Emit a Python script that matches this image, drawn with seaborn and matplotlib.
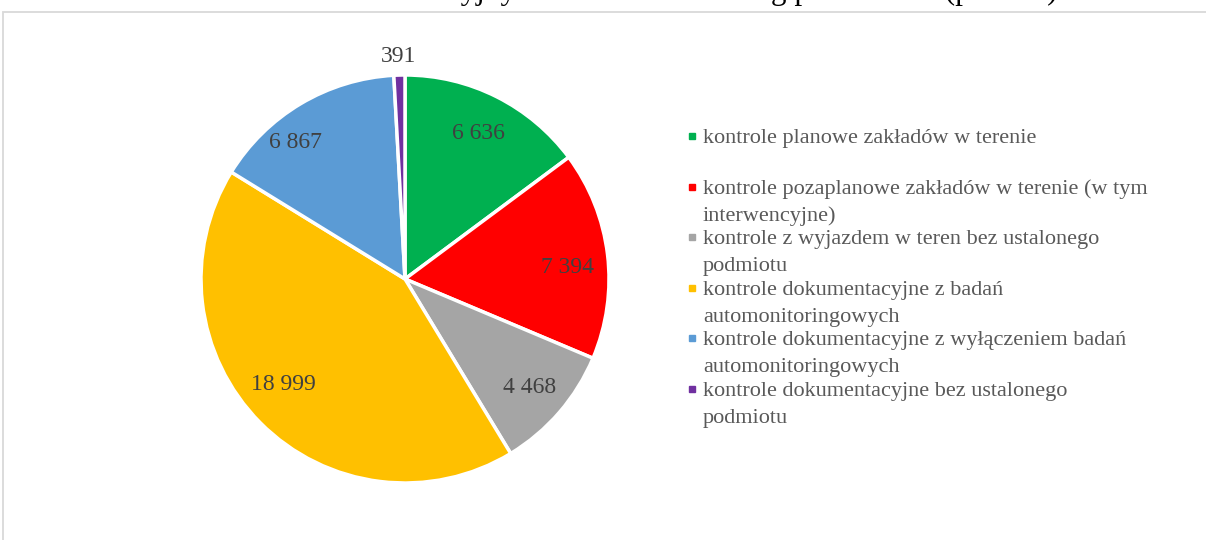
import numpy as np
import pandas as pd
import matplotlib
matplotlib.use("Agg")
import matplotlib.pyplot as plt
from matplotlib.patches import Rectangle
import seaborn as sns

# Dane
kategorie = [
    "kontrole planowe zakładów w terenie",
    "kontrole pozaplanowe zakładów w terenie (w tym\ninterwencyjne)",
    "kontrole z wyjazdem w teren bez ustalonego\npodmiotu",
    "kontrole dokumentacyjne z badań\nautomonitoringowych",
    "kontrole dokumentacyjne z wyłączeniem badań\nautomonitoringowych",
    "kontrole dokumentacyjne bez ustalonego\npodmiotu",
]
wartosci = [6636, 7394, 4468, 18999, 6867, 391]
kolory = ["#00B050", "#FF0000", "#A5A5A5", "#FFC000", "#5B9BD5", "#7030A0"]
tytul = "Liczba kontroli interwencyjnych w rozbiciu według podmiotów (podział)"

sns.set_style("white")
plt.rcParams["font.family"] = ["Liberation Serif", "DejaVu Serif"]

W, H = 1206, 540
fig = plt.figure(figsize=(W / 100, H / 100), dpi=100)

# ramka wykresu
fig.patches.append(Rectangle((3 / W, -0.1), 1.2, (H - 12) / H + 0.1, transform=fig.transFigure,
                             fill=False, ec="#D9D9D9", lw=1.3))

# tytuł (ucięty u góry)
fig.text(137 / W, (H + 0.5) / H, tytul, fontsize=22.5, color="black", va="baseline", ha="left")

# wykres kołowy
cx, cy, r = 405, 279, 204
m = 1.3
ax = fig.add_axes([(cx - r * m) / W, (H - cy - r * m) / H, 2 * r * m / W, 2 * r * m / H])
wedges, _ = ax.pie(wartosci, colors=kolory, startangle=90, counterclock=False,
                   wedgeprops=dict(edgecolor="white", linewidth=2.5))
ax.set_xlim(-m, m)
ax.set_ylim(-m, m)
ax.set_aspect("equal")
ax.axis("off")

# etykiety wartości
odl = [0.80, 0.80, 0.81, 0.79, 0.86, 1.09]
kat_off = [0, -3, 0, -4, 8, 0]
for w, v, d, o in zip(wedges, wartosci, odl, kat_off):
    ang = np.deg2rad((w.theta1 + w.theta2) / 2 + o)
    ax.text(d * np.cos(ang), d * np.sin(ang), f"{v:,}".replace(",", " "),
            ha="center", va="center", fontsize=17, color="#404040")

# legenda
y0 = 143
slot = 50.6
for i, (lab, c) in enumerate(zip(kategorie, kolory)):
    yb = y0 + i * slot
    fig.patches.append(Rectangle((689 / W, (H - yb + 4) / H), 6 / W, 6 / H,
                                 transform=fig.transFigure, color=c))
    fig.text(703 / W, (H - yb) / H, lab.split("\n")[0], fontsize=16, color="#595959",
             va="baseline", ha="left")
    if "\n" in lab:
        fig.text(703 / W, (H - yb - 27) / H, lab.split("\n")[1], fontsize=16, color="#595959",
                 va="baseline", ha="left")

fig.savefig("out.png", dpi=100)
